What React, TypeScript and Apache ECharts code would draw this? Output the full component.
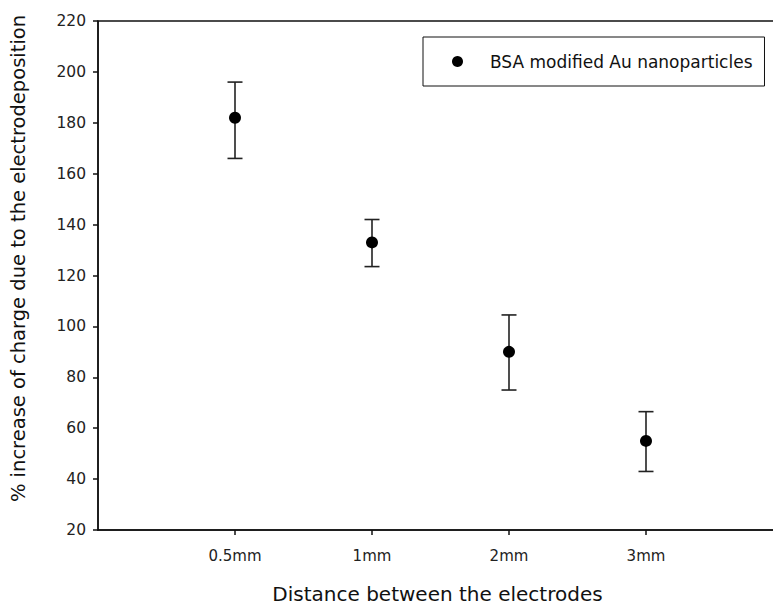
import React, { useEffect, useRef } from "react";
import * as echarts from "echarts";

const categories = ["0.5mm", "1mm", "2mm", "3mm"];
const positions = [1, 2, 3, 4];
const meanValues = [182, 133, 90, 55];
const upperValues = [196, 142, 104.5, 66.5];
const lowerValues = [166, 123.5, 75, 43];
const yTicks = [20, 40, 60, 80, 100, 120, 140, 160, 180, 200, 220];
const seriesName = "BSA modified Au nanoparticles";
const xTitle = "Distance between the electrodes";
const yTitle = "% increase of charge due to the electrodeposition";

const FONT = "'DejaVu Sans', Verdana, sans-serif";

export default function App() {
  const ref = useRef<HTMLDivElement>(null);
  useEffect(() => {
    document.body.style.margin = "0";
    if (!ref.current) return;
    const chart = echarts.init(ref.current, null, { renderer: "svg" });
    const points = positions.map((p, i) => [p, meanValues[i]]);
    const errs = positions.map((p, i) => [p, lowerValues[i], upperValues[i]]);
    chart.setOption({
      animation: false,
      backgroundColor: "#fff",
      grid: {
        left: 98,
        top: 21,
        width: 685,
        bottom: 80,
        outerBoundsMode: "none",
        containLabel: false,
        show: true,
        borderColor: "#111",
        borderWidth: 1.5,
        backgroundColor: "transparent",
      },
      legend: {
        show: true,
        left: 423,
        top: 37,
        orient: "vertical",
        borderColor: "#111",
        borderWidth: 1,
        padding: [16, 12, 16, 29],
        itemWidth: 11,
        itemHeight: 11,
        icon: "circle",
        data: [{ name: seriesName, itemStyle: { color: "#000", opacity: 1 } }],
        textStyle: {
          fontFamily: FONT,
          fontSize: 17,
          color: "#111",
          padding: [0, 0, 0, 22],
        },
      },
      xAxis: {
        type: "value",
        min: 0,
        max: 5,
        interval: 1,
        name: xTitle,
        nameLocation: "middle",
        nameGap: 54,
        nameTextStyle: {
          fontFamily: FONT,
          fontSize: 20,
          color: "#111",
          padding: [0, 6, 0, 0],
        },
        axisLine: { show: true, lineStyle: { color: "#111", width: 1.5 } },
        axisTick: {
          show: true,
          inside: false,
          length: 5,
          customValues: positions,
          lineStyle: { color: "#111", width: 1.5 },
        },
        axisLabel: {
          show: true,
          margin: 18,
          fontFamily: FONT,
          fontSize: 15,
          color: "#222",
          customValues: positions,
          formatter: (v: number) => {
            const i = positions.indexOf(Math.round(v));
            return i >= 0 ? categories[i] : "";
          },
        },
        splitLine: { show: false },
      },
      yAxis: {
        type: "value",
        min: 20,
        max: 220,
        interval: 20,
        name: yTitle,
        nameLocation: "middle",
        nameGap: 70,
        nameTextStyle: {
          fontFamily: FONT,
          fontSize: 19.5,
          color: "#111",
          padding: [0, 0, 0, 34],
        },
        axisLine: { show: true, lineStyle: { color: "#111", width: 1.5 } },
        axisTick: {
          show: true,
          inside: false,
          length: 5,
          customValues: yTicks,
          lineStyle: { color: "#111", width: 1.5 },
        },
        axisLabel: {
          show: true,
          margin: 12,
          fontFamily: FONT,
          fontSize: 15.5,
          color: "#222",
          customValues: yTicks,
        },
        splitLine: { show: false },
      },
      series: [
        {
          type: "custom",
          name: "error",
          data: errs,
          encode: { x: 0, y: [1, 2] },
          z: 1,
          renderItem: (params: any, api: any) => {
            const x = api.value(0);
            const lo = api.coord([x, api.value(1)]);
            const hi = api.coord([x, api.value(2)]);
            const half = 7.5;
            const style = { stroke: "#222", lineWidth: 1.6 };
            return {
              type: "group",
              children: [
                { type: "line", shape: { x1: lo[0], y1: lo[1], x2: hi[0], y2: hi[1] }, style },
                { type: "line", shape: { x1: hi[0] - half, y1: hi[1], x2: hi[0] + half, y2: hi[1] }, style },
                { type: "line", shape: { x1: lo[0] - half, y1: lo[1], x2: lo[0] + half, y2: lo[1] }, style },
              ],
            };
          },
        },
        {
          type: "scatter",
          name: seriesName,
          data: points,
          symbol: "circle",
          symbolSize: 12,
          z: 3,
          itemStyle: { color: "#000", opacity: 1 },
        },
      ],
    });
    return () => chart.dispose();
  }, []);
  return <div ref={ref} style={{ width: 773, height: 610 }} />;
}
